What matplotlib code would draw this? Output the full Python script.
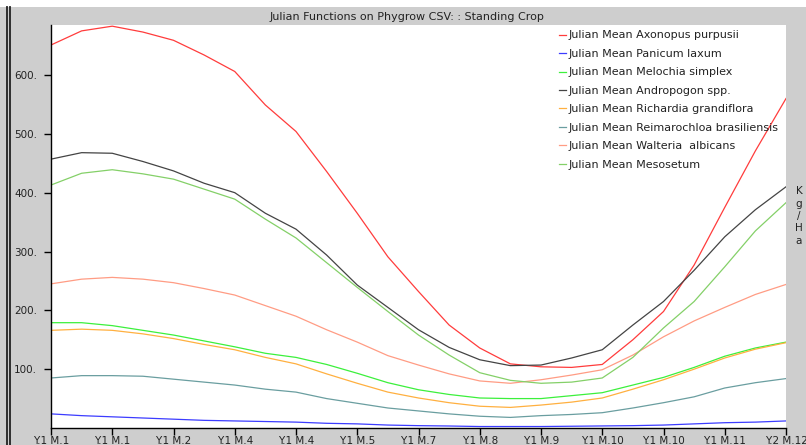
import numpy as np
import matplotlib
matplotlib.use("Agg")
import matplotlib.pyplot as plt
from matplotlib.lines import Line2D
from matplotlib.patches import Rectangle

W, H = 806, 445

# ---- data ----
tick_labels = ["Y.1 M.1", "Y.1 M.1", "Y.1 M.2", "Y.1 M.4", "Y.1 M.4", "Y.1 M.5", "Y.1 M.7",
               "Y.1 M.8", "Y.1 M.9", "Y.1 M.10", "Y.1 M.10", "Y.1 M.11", "Y.2 M.12"]
x_pos = np.linspace(0, 12, 25)

axonopus = [651, 675, 683, 673, 659, 634, 606, 549, 504, 436, 365, 291, 232, 175, 136, 109,
            104, 103, 108, 150, 198, 277, 375, 471, 560]
panicum = [24, 21, 19, 17, 15, 13, 12, 11, 10, 8, 7, 5, 4, 3.4, 2.5, 2.5,
           2.5, 3, 3.5, 4, 5, 7, 9, 10, 12]
melochia = [179, 179, 174, 166, 158, 148, 138, 127, 120, 108, 93, 77, 65, 57, 51, 50,
            50, 55, 60, 73, 86, 103, 122, 136, 146]
andropogon = [457, 468, 467, 453, 437, 416, 400, 365, 338, 294, 243, 205, 167, 137, 116, 106,
              107, 119, 133, 175, 215, 268, 325, 371, 410]
richardia = [166, 168, 166, 160, 152, 142, 133, 120, 109, 92, 76, 61, 51, 43, 37, 35,
             39, 44, 51, 66, 82, 100, 119, 134, 145]
reimarochloa = [85, 89, 89, 88, 83, 78, 73, 66, 61, 50, 42, 34, 29, 24, 20, 18,
                21, 23, 26, 34, 43, 53, 68, 77, 84]
walteria = [245, 253, 256, 253, 247, 237, 226, 208, 190, 167, 146, 123, 107, 92, 80, 76,
            82, 90, 99, 124, 155, 182, 205, 227, 244]
mesosetum = [413, 433, 439, 432, 423, 406, 389, 355, 323, 281, 239, 198, 158, 124, 94, 81,
             76, 78, 85, 120, 170, 215, 274, 335, 383]

series_names = ["Julian Mean Axonopus purpusii", "Julian Mean Panicum laxum",
                "Julian Mean Melochia simplex", "Julian Mean Andropogon spp.",
                "Julian Mean Richardia grandiflora", "Julian Mean Reimarochloa brasiliensis",
                "Julian Mean Walteria  albicans", "Julian Mean Mesosetum"]
series_values = [axonopus, panicum, melochia, andropogon, richardia, reimarochloa, walteria, mesosetum]
colors = ["#ff3c3c", "#3c3cff", "#3cf03c", "#444444", "#ffb040", "#6a9ea0", "#ff9c84", "#84d068"]

y_ticks = [100, 200, 300, 400, 500, 600]

FS = 8
TFS = 7.5
fig = plt.figure(figsize=(W / 100, H / 100), dpi=100, facecolor="white")

# grey panel
fig.add_artist(Rectangle((0, 0), 1, 1 - 7 / H, transform=fig.transFigure,
                         facecolor="#cecece", edgecolor="none", zorder=-10))
for xp in (7.5, 10.0):
    fig.add_artist(Line2D([xp / W, xp / W], [0, 1 - 7 / H], transform=fig.transFigure,
                          color="#222222", lw=1.3))

ax = fig.add_axes([51 / W, 1 - 428 / H, (786 - 51) / W, (428 - 25) / H])
ax.set_facecolor("white")
for name, vals, c in zip(series_names, series_values, colors):
    ax.plot(x_pos, vals, color=c, lw=0.9, label=name)

ax.set_xlim(0, 12)
ax.set_ylim(0, 685)
ax.set_xticks(range(13))
ax.set_xticklabels(tick_labels)
ax.set_yticks(y_ticks)
ax.set_yticklabels([f"{v}." for v in y_ticks])
ax.tick_params(axis="both", direction="out", length=5, width=1, color="black",
               labelsize=TFS, labelcolor="#222222")
ax.tick_params(axis="x", pad=1)
ax.tick_params(axis="y", pad=5)
for s in ("top", "right"):
    ax.spines[s].set_visible(False)
for s in ("left", "bottom"):
    ax.spines[s].set_color("black")
    ax.spines[s].set_linewidth(1)

leg = ax.legend(loc="upper left", bbox_to_anchor=(559 / W, 1 - 30.5 / H),
                bbox_transform=fig.transFigure, frameon=False, fontsize=FS,
                handlelength=0.63, handletextpad=0.25, labelspacing=0.76,
                borderaxespad=0, borderpad=0)
for t in leg.get_texts():
    t.set_color("#222222")

fig.text(407 / W, 1 - 17 / H, "Julian Functions on Phygrow CSV: : Standing Crop",
         ha="center", va="center", fontsize=FS, color="#222222")
fig.text(799 / W, 1 - 216 / H, "K\ng\n/\nH\na", ha="center", va="center",
         fontsize=TFS, color="#222222", linespacing=1.3)

fig.savefig("out.png", dpi=100, facecolor=fig.get_facecolor())
